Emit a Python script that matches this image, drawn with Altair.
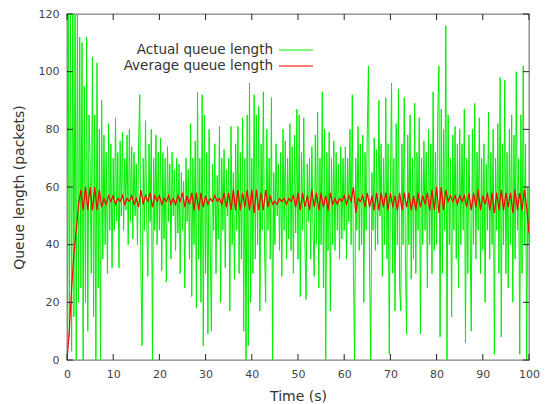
import altair as alt
import numpy as np
import pandas as pd

# Actual queue length, sampled every 0.25 s (t = 0 .. 100)
actual = [
    0, 125, 8, 125, 3, 125, 15, 125, 0, 122, 20, 112, 25, 110, 0, 95, 20, 112, 10, 85,
    70, 30, 105, 15, 85, 0, 103, 25, 80, 0, 90, 35, 78, 40, 72, 30, 82, 45, 75, 32,
    70, 45, 84, 48, 72, 32, 76, 50, 79, 45, 70, 52, 78, 40, 80, 48, 74, 42, 72, 50,
    68, 40, 75, 92, 30, 5, 70, 45, 83, 50, 29, 75, 48, 80, 0, 70, 45, 78, 40, 72,
    45, 77, 31, 72, 42, 70, 27, 74, 48, 68, 35, 72, 50, 66, 38, 70, 44, 68, 30, 65,
    45, 62, 25, 70, 48, 66, 35, 82, 22, 70, 40, 76, 18, 93, 35, 70, 20, 92, 5, 85,
    30, 72, 9, 80, 40, 10, 68, 45, 75, 30, 64, 42, 81, 20, 70, 45, 73, 32, 66, 50,
    70, 17, 81, 40, 65, 28, 75, 45, 81, 30, 72, 35, 84, 10, 70, 0, 85, 5, 96, 20,
    70, 30, 92, 35, 85, 40, 88, 17, 75, 45, 93, 40, 20, 80, 45, 70, 35, 91, 0, 65,
    40, 75, 50, 68, 38, 72, 29, 80, 45, 76, 35, 70, 42, 82, 38, 74, 30, 78, 44, 87,
    35, 85, 22, 72, 45, 84, 40, 21, 68, 48, 70, 35, 74, 45, 29, 78, 40, 86, 25, 70,
    40, 93, 25, 80, 0, 72, 38, 79, 17, 70, 40, 76, 38, 72, 45, 68, 35, 74, 42, 70,
    45, 74, 35, 70, 48, 80, 40, 92, 30, 0, 70, 45, 81, 38, 75, 40, 78, 20, 72, 45,
    80, 102, 30, 0, 65, 45, 77, 38, 73, 40, 90, 50, 75, 29, 70, 40, 91, 35, 75, 2,
    60, 96, 30, 70, 17, 82, 40, 94, 25, 17, 75, 40, 91, 35, 9, 78, 40, 85, 28, 70,
    35, 89, 30, 72, 45, 84, 9, 70, 40, 76, 45, 72, 25, 80, 40, 75, 30, 93, 38, 72,
    40, 85, 102, 8, 87, 30, 80, 45, 116, 0, 85, 40, 70, 15, 78, 45, 81, 35, 75, 25,
    80, 40, 75, 45, 87, 6, 70, 30, 78, 45, 10, 80, 40, 89, 35, 72, 45, 84, 30, 70,
    38, 75, 20, 68, 45, 86, 35, 72, 40, 80, 2, 70, 45, 82, 30, 98, 8, 75, 40, 97,
    30, 72, 25, 80, 40, 85, 20, 78, 35, 100, 45, 70, 2, 85, 30, 102, 40, 75, 0, 60,
    40,
]

# Average queue length, sampled every 0.5 s (t = 0 .. 100)
average = [
    0, 10, 25, 37, 45, 54, 59, 52, 60, 52, 60, 52, 60, 52, 59, 53, 56, 54, 57, 55,
    57, 54, 56, 55, 57, 54, 56, 55, 57, 54, 56, 53, 59, 54, 57, 55, 58, 53, 57, 55,
    57, 54, 56, 55, 57, 54, 56, 54, 57, 55, 58, 53, 57, 54, 58, 52, 58, 52, 58, 53,
    57, 54, 56, 55, 57, 55, 56, 54, 58, 53, 58, 52, 59, 52, 59, 52, 58, 53, 59, 52,
    59, 51, 59, 52, 58, 52, 59, 53, 57, 54, 55, 54, 56, 55, 56, 54, 56, 55, 57, 53,
    58, 52, 58, 53, 57, 52, 59, 53, 58, 52, 58, 53, 57, 52, 58, 54, 56, 54, 56, 55,
    57, 54, 57, 55, 60, 51, 56, 55, 57, 53, 58, 53, 57, 52, 58, 52, 58, 53, 58, 52,
    58, 53, 57, 52, 58, 52, 58, 53, 58, 52, 57, 52, 58, 53, 57, 54, 58, 52, 59, 52,
    60, 51, 60, 52, 59, 55, 57, 55, 57, 54, 57, 55, 57, 53, 58, 52, 58, 53, 59, 52,
    57, 54, 58, 52, 58, 51, 58, 52, 59, 52, 58, 53, 58, 51, 59, 52, 58, 52, 59, 53,
    44,
]

x_ticks = [0, 10, 20, 30, 40, 50, 60, 70, 80, 90, 100]
y_ticks = [0, 20, 40, 60, 80, 100, 120]
legend_labels = ["Actual queue length", "Average queue length"]
colors = ["#00ee00", "#ff0000"]

t_actual = np.linspace(0, 100, len(actual))
t_average = np.linspace(0, 100, len(average))
df_a = pd.DataFrame({"t": t_actual, "q": actual})
df_m = pd.DataFrame({"t": t_average, "q": average})

W, H = 462, 346
xs = alt.Scale(domain=[0, 100], nice=False, zero=False)
ys = alt.Scale(domain=[0, 120], nice=False)
FONT = "DejaVu Sans"

x_axis = alt.Axis(values=x_ticks, ticks=False, domain=False, grid=False,
                  labelFlush=False, labelOverlap=False,
                  labelFont=FONT, labelFontSize=11, labelColor="#444444",
                  labelPadding=8, title="Time (s)", titleFont=FONT,
                  titleFontSize=14, titleFontWeight="normal", titleColor="#333333",
                  titlePadding=10)
y_axis = alt.Axis(values=y_ticks, ticks=False, domain=False, grid=False,
                  labelFlush=False, labelOverlap=False,
                  labelFont=FONT, labelFontSize=11, labelColor="#444444",
                  labelPadding=8, title="Queue length (packets)", titleFont=FONT,
                  titleFontSize=14, titleFontWeight="normal", titleColor="#333333",
                  titlePadding=12)

green = alt.Chart(df_a).mark_line(color=colors[0], strokeWidth=1, clip=True).encode(
    x=alt.X("t:Q", scale=xs, axis=x_axis),
    y=alt.Y("q:Q", scale=ys, axis=y_axis),
)
red = alt.Chart(df_m).mark_line(color=colors[1], strokeWidth=1.2, clip=True).encode(
    x=alt.X("t:Q", scale=xs, axis=x_axis),
    y=alt.Y("q:Q", scale=ys, axis=y_axis),
)

dx = pd.DataFrame({"t": x_ticks})
dy = pd.DataFrame({"q": y_ticks})
tick_col = "#222222"
xt_bottom = alt.Chart(dx).mark_rule(color=tick_col, strokeWidth=1).encode(
    x=alt.X("t:Q", scale=xs, axis=x_axis), y=alt.value(H), y2=alt.value(H - 6))
xt_top = alt.Chart(dx).mark_rule(color=tick_col, strokeWidth=1).encode(
    x=alt.X("t:Q", scale=xs, axis=x_axis), y=alt.value(0), y2=alt.value(6))
yt_left = alt.Chart(dy).mark_rule(color=tick_col, strokeWidth=1).encode(
    y=alt.Y("q:Q", scale=ys, axis=y_axis), x=alt.value(0), x2=alt.value(6))
yt_right = alt.Chart(dy).mark_rule(color=tick_col, strokeWidth=1).encode(
    y=alt.Y("q:Q", scale=ys, axis=y_axis), x=alt.value(W), x2=alt.value(W - 6))

one = pd.DataFrame({"a": [0]})
leg = []
for i, (lab, col) in enumerate(zip(legend_labels, colors)):
    yy = 36 + 16 * i
    leg.append(alt.Chart(one).mark_text(align="right", baseline="middle", font=FONT,
                                         fontSize=13.5, color="#333333").encode(
        x=alt.value(206), y=alt.value(yy), text=alt.value(lab)))
    leg.append(alt.Chart(one).mark_rule(color=col, strokeWidth=1.2).encode(
        x=alt.value(212), x2=alt.value(246), y=alt.value(yy)))

chart = alt.layer(green, red, xt_bottom, xt_top, yt_left, yt_right, *leg).properties(
    width=W, height=H,
    autosize=alt.AutoSizeParams(type="none"),
    padding={"left": 67, "top": 14, "right": 20, "bottom": 44},
    background="white",
).configure_view(stroke="#808080", strokeWidth=1.3)

chart.save("out.html", embed_options={"renderer": "svg", "actions": False})
